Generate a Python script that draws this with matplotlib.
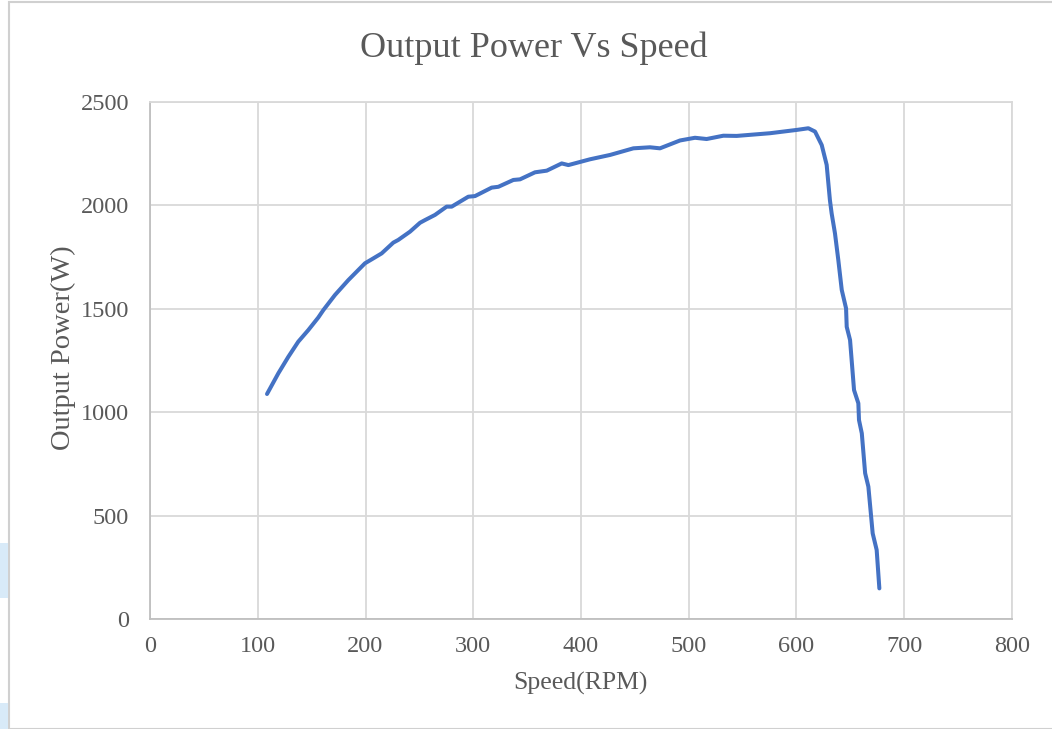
import matplotlib.pyplot as plt
from matplotlib.patches import Rectangle

# values
speed = [108.6, 119.1, 128.4, 137.6, 146.9, 156.2, 160.9, 171.7, 184.1, 199.5,
         205.7, 215, 225.8, 230.4, 241.3, 250.6, 255.2, 264.5, 275.3, 280,
         295.4, 301.6, 317.1, 323.3, 337.2, 343.4, 357.3, 368.2, 382.1, 388.3,
         408.4, 427, 448.6, 464, 473.3, 491.9, 505.8, 516.6, 532.1, 544.5,
         575.4, 600.2, 611, 617.2, 623.4, 628, 631, 632.6, 635.7, 638.8,
         642, 646, 646.6, 649.7, 653.4, 657.4, 658, 660.6, 663.7, 666.7,
         670.7, 674.4, 676.9]
power = [1088, 1188, 1268, 1341, 1397, 1458, 1494, 1567, 1639, 1720,
         1739, 1768, 1820, 1833, 1873, 1916, 1929, 1954, 1994, 1994,
         2042, 2045, 2086, 2090, 2123, 2126, 2160, 2168, 2203, 2195,
         2223, 2244, 2276, 2281, 2276, 2314, 2327, 2321, 2337, 2336,
         2349, 2365, 2373, 2357, 2292, 2196, 2026, 1962, 1865, 1736,
         1591, 1502, 1413, 1349, 1107, 1043, 962, 898, 705, 640,
         414, 334, 148]

x_ticks = [0, 100, 200, 300, 400, 500, 600, 700, 800]
y_ticks = [0, 500, 1000, 1500, 2000, 2500]

plt.rcParams['font.family'] = ['Liberation Serif', 'DejaVu Serif']
txt = '#595959'
grid = '#d9d9d9'

W, H = 1052, 729
fig = plt.figure(figsize=(W / 100, H / 100), dpi=100)

# chart frame and the bits of screenshot at the left edge
fig.patches.append(Rectangle((9 / W, 0), 1.0, 727.5 / H, transform=fig.transFigure,
                             fill=False, edgecolor='#d0d0d0', linewidth=1.5))
for y0, y1 in [(543, 598), (703, 729)]:
    fig.patches.append(Rectangle((0, 1 - y1 / H), 8 / W, (y1 - y0) / H,
                                 transform=fig.transFigure, color='#d8eaf8', linewidth=0))

ax = fig.add_axes([150 / W, 110 / H, 862 / W, 517 / H])
ax.plot(speed, power, color='#4472C4', linewidth=2.9, solid_capstyle='round',
        solid_joinstyle='round')

ax.set_xlim(0, 800)
ax.set_ylim(0, 2500)
ax.set_xticks(x_ticks)
ax.set_yticks(y_ticks)
ax.grid(True, color=grid, linewidth=1.3)
ax.set_axisbelow(True)
ax.tick_params(length=0, labelsize=17.5, labelcolor=txt)
ax.tick_params(axis='y', pad=15)
ax.tick_params(axis='x', pad=12)
for s in ['top', 'right']:
    ax.spines[s].set_color(grid)
    ax.spines[s].set_linewidth(1.3)
for s in ['left', 'bottom']:
    ax.spines[s].set_color('#bfbfbf')
    ax.spines[s].set_linewidth(1.3)

fig.text(533.5 / W, 1 - 57 / H, 'Output Power Vs Speed', fontsize=26, color=txt,
         ha='center', va='baseline')
fig.text(580 / W, 1 - 690 / H, 'Speed(RPM)', fontsize=18.5, color=txt,
         ha='center', va='baseline')
fig.text(63 / W, 1 - 348 / H, 'Output Power(W)', fontsize=20.5, color=txt,
         ha='center', va='center', rotation=90)

fig.savefig('out.png', dpi=100)
